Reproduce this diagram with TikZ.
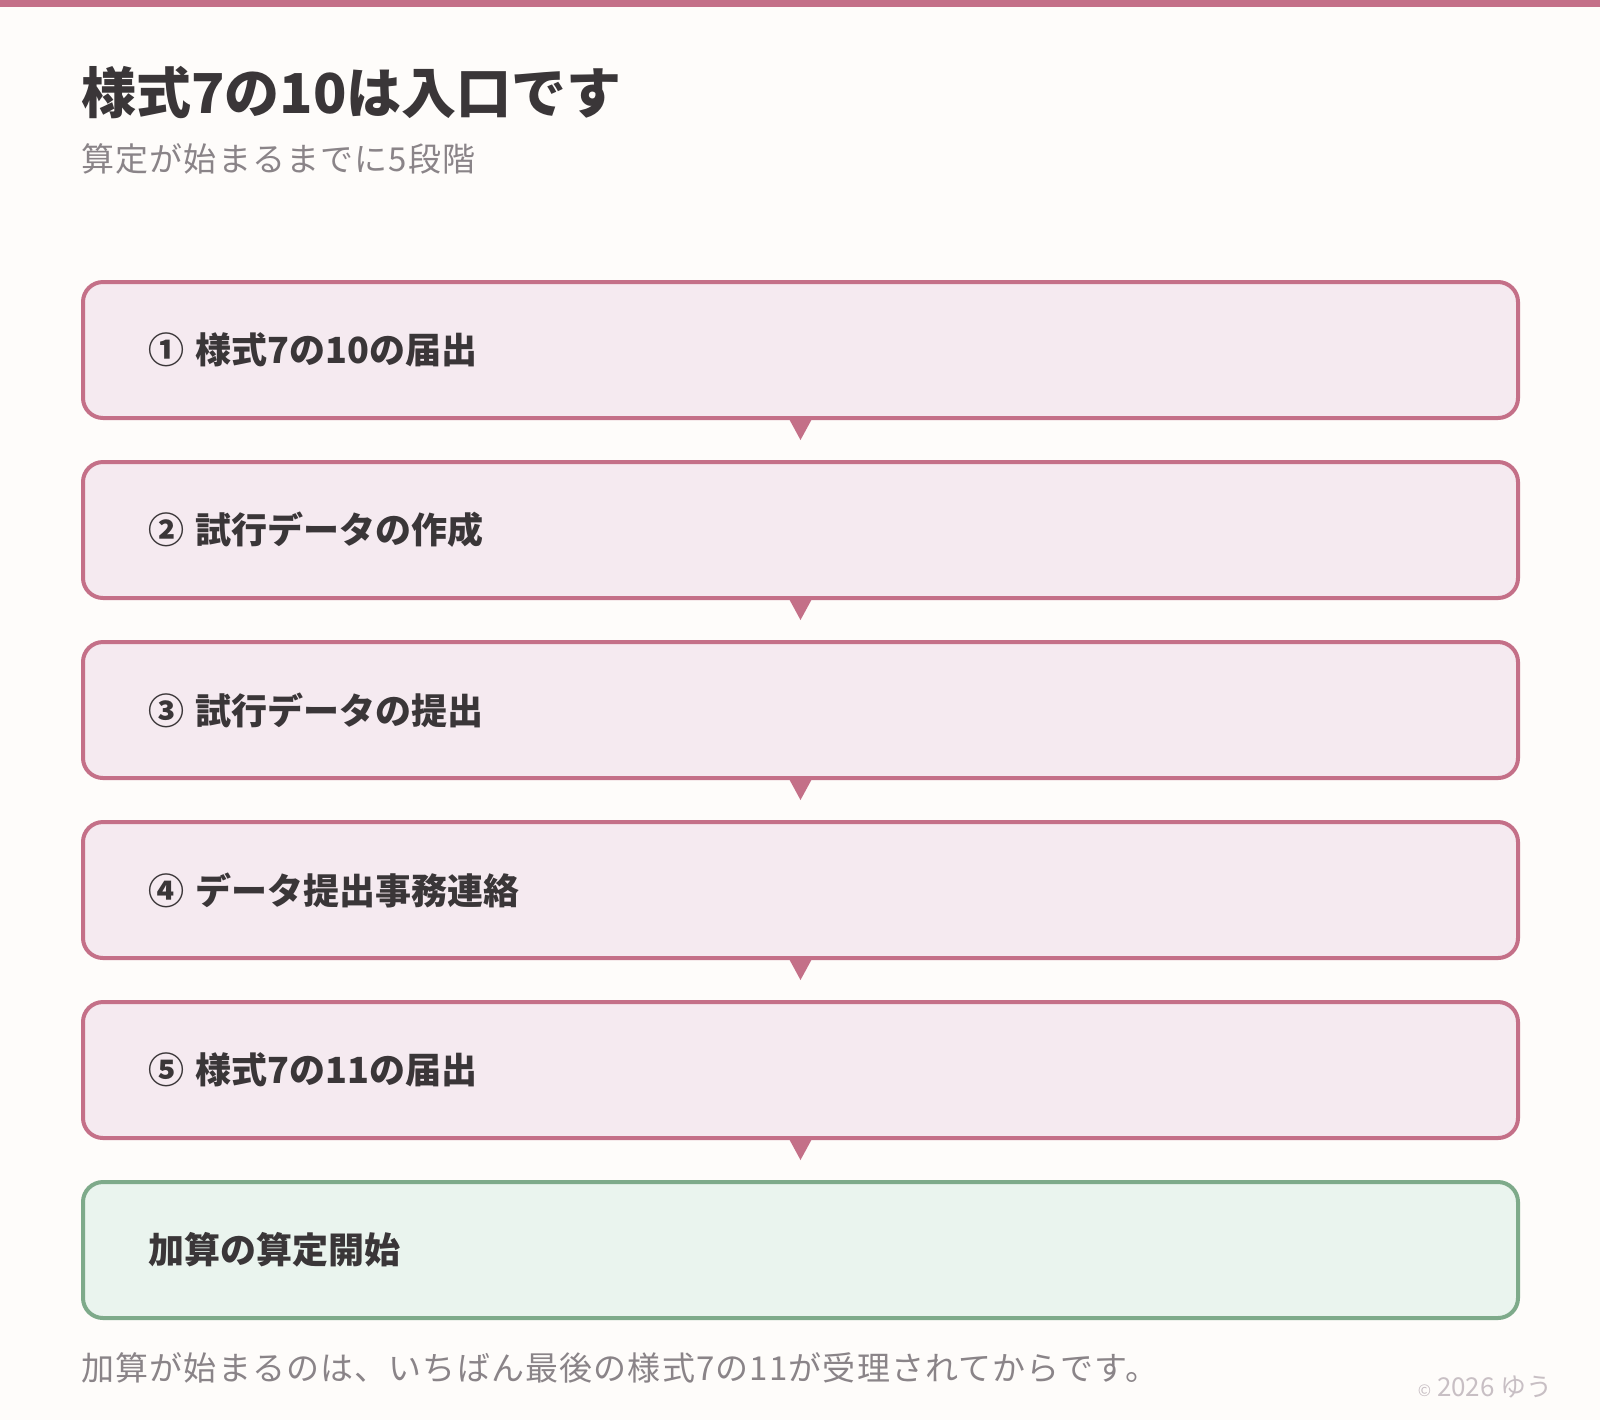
\documentclass[tikz,border=0pt]{standalone}
\usepackage{fontspec}
\setmainfont{Noto Sans CJK JP}
\newfontfamily\noteFont[LetterSpace=3.5]{Noto Sans CJK JP}
\usetikzlibrary{positioning,calc}
\definecolor{bgColor}{HTML}{FEFCFA}
\definecolor{stepColor}{HTML}{C47088}
\definecolor{stepFill}{HTML}{F5EAF0}
\definecolor{endColor}{HTML}{7EAA8A}
\definecolor{endFill}{HTML}{EAF4EE}
\definecolor{textColor}{HTML}{3A3638}
\definecolor{grayColor}{HTML}{8A8488}
\definecolor{copyColor}{HTML}{C8BFC4}

\begin{document}
\begin{tikzpicture}[x=0.5pt, y=-0.5pt,
stepbox/.style={
    draw=stepColor, fill=stepFill, line width=2pt, rounded corners=10pt,
    minimum width=717.5pt, minimum height=68pt,
    text width=652.5pt, inner xsep=32.5pt, align=left,
    font=\fontsize{18}{22}\selectfont\bfseries, text=textColor},
endbox/.style={
    stepbox, draw=endColor, fill=endFill},
plaintext/.style={
    anchor=west, inner sep=0pt},
node distance=20pt
]

\fill[bgColor] (0,0) rectangle (1600,1420);
\useasboundingbox (0,0) rectangle (1600,1420);
\fill[stepColor] (0,0) rectangle (1600,7);

\node[plaintext, font=\fontsize{27.5}{30}\selectfont\bfseries, text=textColor]
                                    at (81,93) (title) {様式7の10は入口です};
\node[plaintext, font=\noteFont\fontsize{16.5}{20}\selectfont, text=grayColor]
                                    at (81,159) (subtitle) {算定が始まるまでに5段階};

\node[stepbox] at (800.5,350) (step1) {① 様式7の10の届出};
\node[stepbox, below=of step1] (step2) {② 試行データの作成};
\node[stepbox, below=of step2] (step3) {③ 試行データの提出};
\node[stepbox, below=of step3] (step4) {④ データ提出事務連絡};
\node[stepbox, below=of step4] (step5) {⑤ 様式7の11の届出};
\node[endbox, below=of step5] (startBox) {加算の算定開始};

\foreach \from in {step1, step2, step3, step4, step5}
    \fill[stepColor] ($(\from.south)+(-12.5,-3)$) -- ($(\from.south)+(12.5,-3)$)
                     -- ($(\from.south)+(0,20)$) -- cycle;

\node[plaintext, font=\noteFont\fontsize{16.5}{20}\selectfont, text=grayColor]
        at (81,1368) (note) {加算が始まるのは、いちばん最後の様式7の11が受理されてからです。};
\node[plaintext, anchor=east, font=\fontsize{13}{15}\selectfont, text=copyColor]
        at (1553,1387) (copyright) {{\fontsize{8}{9}\selectfont ©} 2026 ゆう};

\end{tikzpicture}
\end{document}
